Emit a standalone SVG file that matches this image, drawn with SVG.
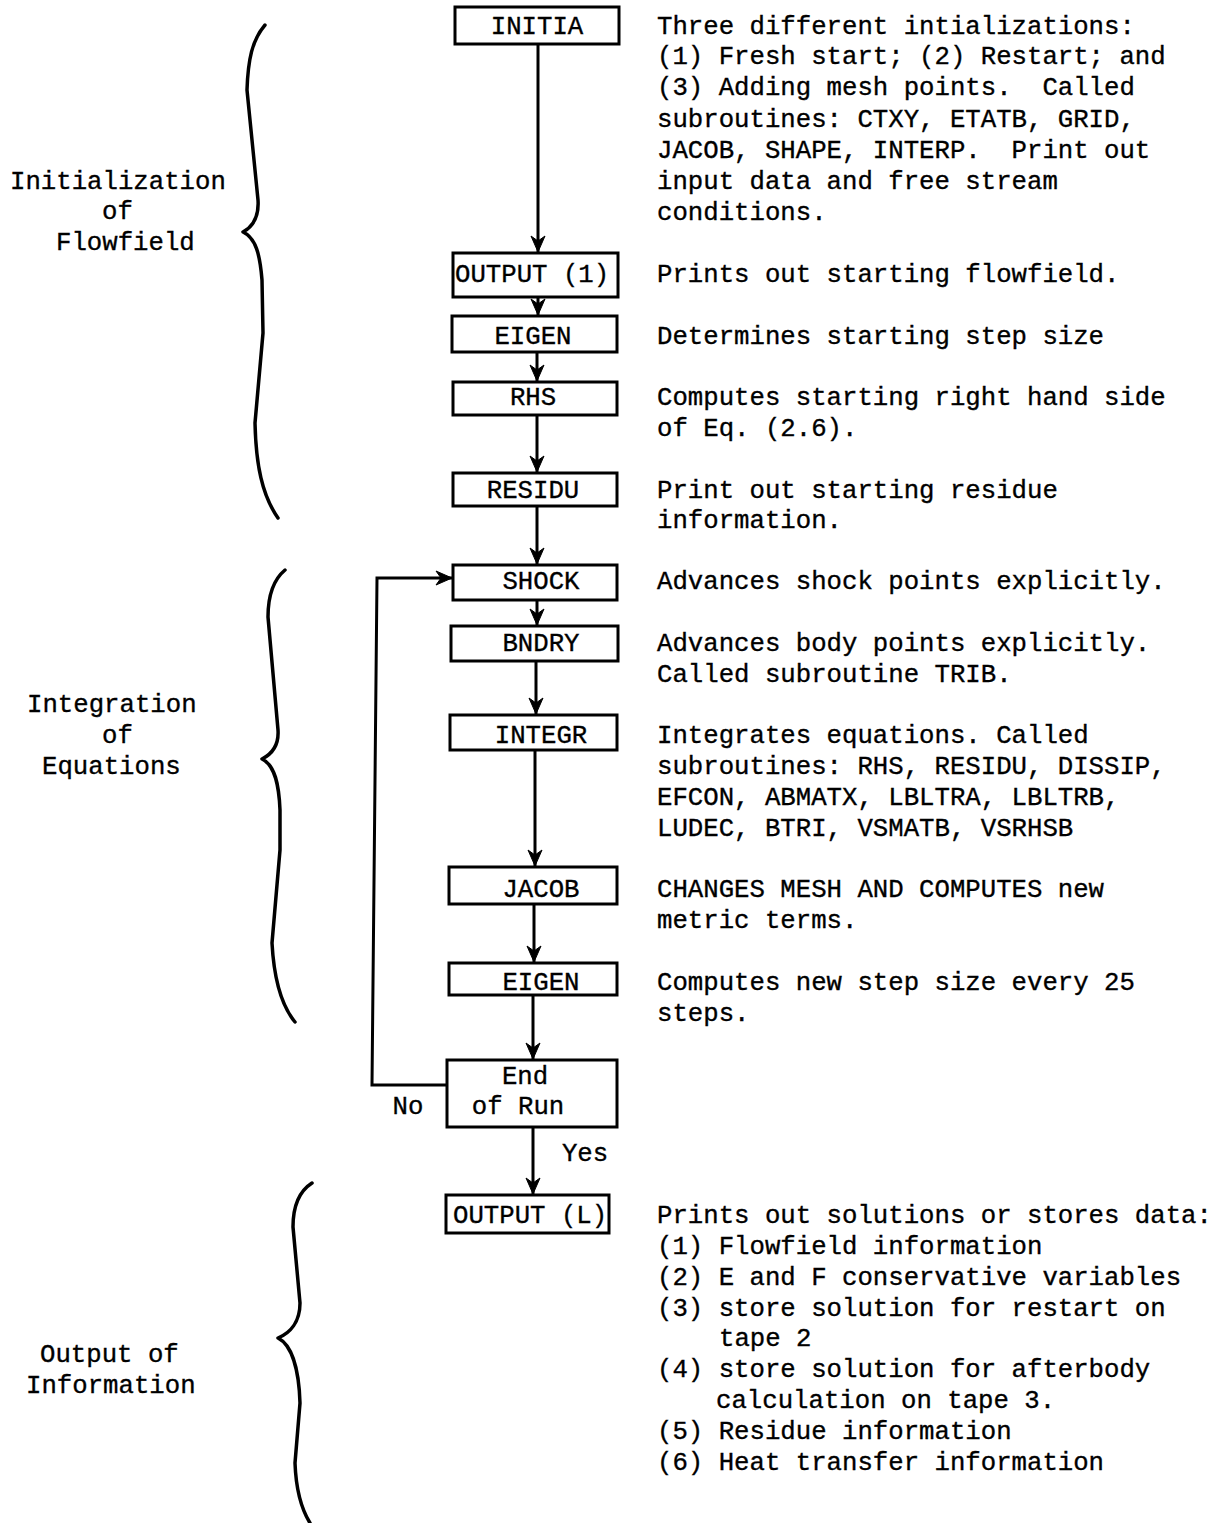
<svg xmlns="http://www.w3.org/2000/svg" width="1217" height="1523" viewBox="0 0 1217 1523">
<style>
text{font-family:"Liberation Mono","Courier New",monospace;font-size:25.7px;fill:#000;stroke:#000;stroke-width:0.35;white-space:pre}
.c{text-anchor:middle}
.box{fill:#fff;stroke:#000;stroke-width:3}
.con{fill:none;stroke:#000;stroke-width:3}
.brace{fill:none;stroke:#000;stroke-width:3.5;stroke-linecap:round;stroke-linejoin:round}
</style>
<defs>
<marker id="ah" markerWidth="18" markerHeight="18" refX="16" refY="8" orient="auto" markerUnits="userSpaceOnUse" overflow="visible">
<path d="M0,1 L16,8 L0,15 L5,8 Z" fill="#000" stroke="#000" stroke-width="1"/>
</marker>
</defs>
<rect width="1217" height="1523" fill="#fff"/>
<g id="connectors">
<line class="con" x1="538" y1="44" x2="538" y2="252" marker-end="url(#ah)"/>
<line class="con" x1="538" y1="297" x2="538" y2="315" marker-end="url(#ah)"/>
<line class="con" x1="537" y1="352" x2="537" y2="381" marker-end="url(#ah)"/>
<line class="con" x1="537" y1="415" x2="537" y2="472" marker-end="url(#ah)"/>
<line class="con" x1="537" y1="506" x2="537" y2="564" marker-end="url(#ah)"/>
<line class="con" x1="537" y1="600" x2="537" y2="625" marker-end="url(#ah)"/>
<line class="con" x1="536" y1="661" x2="536" y2="714" marker-end="url(#ah)"/>
<line class="con" x1="535" y1="750" x2="535" y2="866" marker-end="url(#ah)"/>
<line class="con" x1="534" y1="904" x2="534" y2="962" marker-end="url(#ah)"/>
<line class="con" x1="533" y1="995" x2="533" y2="1059" marker-end="url(#ah)"/>
<line class="con" x1="533" y1="1127" x2="533" y2="1194" marker-end="url(#ah)"/>
<polyline class="con" points="447,1085 372,1085 377,578 452,578" marker-end="url(#ah)"/>
<text x="408" y="1114" class="c">No</text>
<text x="585" y="1161" class="c">Yes</text>
</g>
<g id="n-initia"><rect class="box" x="455" y="7" width="164" height="37"/><text x="537" y="34" class="c">INITIA</text></g>
<g id="n-output1"><rect class="box" x="453" y="253" width="165" height="44"/><text x="455" y="282">OUTPUT (1)</text></g>
<g id="n-eigen1"><rect class="box" x="452" y="316" width="165" height="36"/><text x="533" y="344" class="c">EIGEN</text></g>
<g id="n-rhs"><rect class="box" x="453" y="382" width="164" height="33"/><text x="533" y="405" class="c">RHS</text></g>
<g id="n-residu"><rect class="box" x="453" y="473" width="164" height="33"/><text x="533" y="498" class="c">RESIDU</text></g>
<g id="n-shock"><rect class="box" x="453" y="565" width="164" height="35"/><text x="541" y="589" class="c">SHOCK</text></g>
<g id="n-bndry"><rect class="box" x="451" y="626" width="167" height="35"/><text x="541" y="651" class="c">BNDRY</text></g>
<g id="n-integr"><rect class="box" x="450" y="715" width="167" height="35"/><text x="541" y="743" class="c">INTEGR</text></g>
<g id="n-jacob"><rect class="box" x="449" y="867" width="168" height="37"/><text x="541" y="897" class="c">JACOB</text></g>
<g id="n-eigen2"><rect class="box" x="449" y="963" width="168" height="32"/><text x="541" y="990" class="c">EIGEN</text></g>
<g id="n-endrun"><rect class="box" x="447" y="1060" width="170" height="67"/><text x="525" y="1084" class="c">End</text><text x="518" y="1114" class="c">of Run</text></g>
<g id="n-outputL"><rect class="box" x="446" y="1195" width="163" height="38"/><text x="453" y="1223">OUTPUT (L)</text></g>
<g id="descriptions">
<text x="657" y="34">Three different intializations:</text>
<text x="657" y="64">(1) Fresh start; (2) Restart; and</text>
<text x="657" y="95">(3) Adding mesh points.  Called</text>
<text x="657" y="127">subroutines: CTXY, ETATB, GRID,</text>
<text x="657" y="158">JACOB, SHAPE, INTERP.  Print out</text>
<text x="657" y="189">input data and free stream</text>
<text x="657" y="220">conditions.</text>
<text x="657" y="282">Prints out starting flowfield.</text>
<text x="657" y="344">Determines starting step size</text>
<text x="657" y="405">Computes starting right hand side</text>
<text x="657" y="436">of Eq. (2.6).</text>
<text x="657" y="498">Print out starting residue</text>
<text x="657" y="528">information.</text>
<text x="657" y="589">Advances shock points explicitly.</text>
<text x="657" y="651">Advances body points explicitly.</text>
<text x="657" y="682">Called subroutine TRIB.</text>
<text x="657" y="743">Integrates equations. Called</text>
<text x="657" y="774">subroutines: RHS, RESIDU, DISSIP,</text>
<text x="657" y="805">EFCON, ABMATX, LBLTRA, LBLTRB,</text>
<text x="657" y="836">LUDEC, BTRI, VSMATB, VSRHSB</text>
<text x="657" y="897">CHANGES MESH AND COMPUTES new</text>
<text x="657" y="928">metric terms.</text>
<text x="657" y="990">Computes new step size every 25</text>
<text x="657" y="1021">steps.</text>
<text x="657" y="1223">Prints out solutions or stores data:</text>
<text x="657" y="1254">(1) Flowfield information</text>
<text x="657" y="1285">(2) E and F conservative variables</text>
<text x="657" y="1316">(3) store solution for restart on</text>
<text x="719" y="1346">tape 2</text>
<text x="657" y="1377">(4) store solution for afterbody</text>
<text x="716" y="1408">calculation on tape 3.</text>
<text x="657" y="1439">(5) Residue information</text>
<text x="657" y="1470">(6) Heat transfer information</text>
</g>
<g id="group-initialization">
<path class="brace" d="M265,25 C252,40 248,60 247,90 L258,200 C259,215 254,226 243,232 C256,238 260,255 262,280 L263,333 L255,423 C256,465 262,495 278,518"/>
<text x="10" y="189">Initialization</text>
<text x="102" y="219">of</text>
<text x="56" y="250">Flowfield</text>
</g>
<g id="group-integration">
<path class="brace" d="M285,570 C273,580 268,597 268,617 L278,730 C279,745 272,754 262,759 C275,765 279,785 280,810 L280,850 L272,943 C274,980 281,1005 295,1022"/>
<text x="27" y="712">Integration</text>
<text x="102" y="743">of</text>
<text x="42" y="774">Equations</text>
</g>
<g id="group-output">
<path class="brace" d="M312,1183 C298,1192 293,1208 293,1227 L300,1303 C300,1322 290,1333 278,1338 C292,1345 299,1370 300,1403 L295,1463 C296,1490 302,1510 310,1523"/>
<text x="40" y="1362">Output of</text>
<text x="26" y="1393">Information</text>
</g>
</svg>
